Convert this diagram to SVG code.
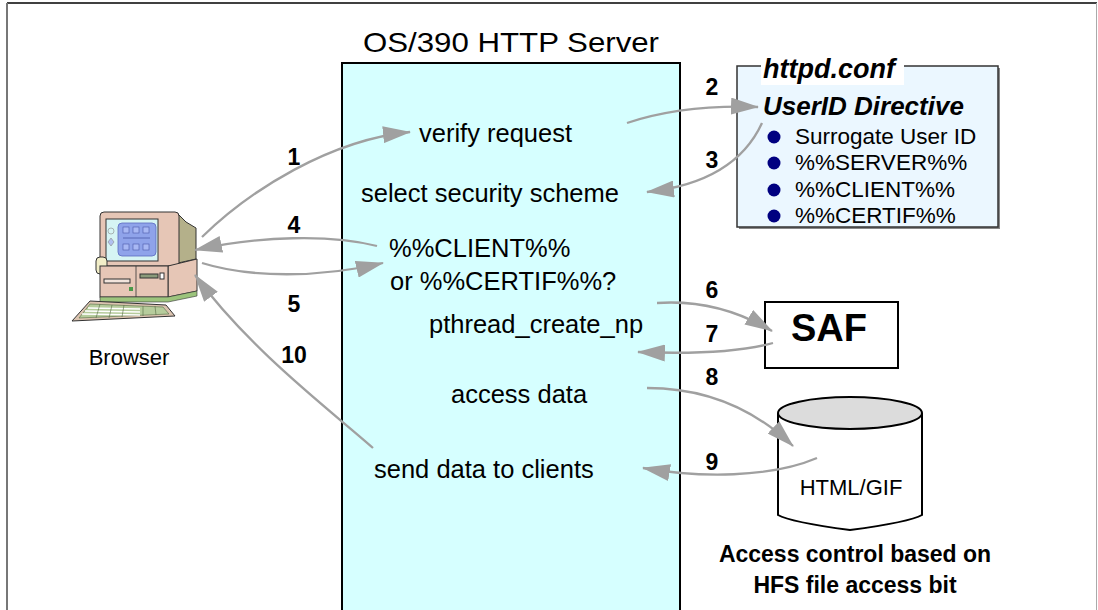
<svg xmlns="http://www.w3.org/2000/svg" width="1098" height="610" viewBox="0 0 1098 610">
  <style>
    .t { font-family: "Liberation Sans", Arial, sans-serif; fill: #000; }
    .lbl { font-size: 25.5px; }
    .num { font-size: 23px; font-weight: bold; }
    .item { font-size: 22.5px; }
    .conn { fill: none; stroke: #a0a0a0; stroke-width: 2.3; marker-end: url(#head); }
    .ol { stroke: #333; stroke-width: 1; }
  </style>
  <defs>
    <marker id="head" markerUnits="userSpaceOnUse" viewBox="0 0 28 17" refX="27" refY="8.5" markerWidth="28" markerHeight="17" orient="auto">
      <path d="M0,0 L28,8.5 L0,17 z" fill="#a0a0a0"/>
    </marker>
  </defs>

  <rect width="1098" height="610" fill="#fff"/>
  <!-- page frame -->
  <line x1="7" y1="3" x2="1097" y2="3" stroke="#000" stroke-width="1.5"/>
  <line x1="7" y1="3" x2="7" y2="610" stroke="#777" stroke-width="2"/>
  <line x1="1096.5" y1="3" x2="1096.5" y2="610" stroke="#aaa" stroke-width="1"/>

  <!-- HTTP server -->
  <g id="server">
    <text class="t" x="511" y="52" font-size="28" text-anchor="middle" textLength="296" lengthAdjust="spacingAndGlyphs">OS/390 HTTP Server</text>
    <rect x="342" y="63" width="338" height="560" fill="#d6ffff" stroke="#000" stroke-width="2"/>
    <text class="t lbl" x="419" y="142">verify request</text>
    <text class="t lbl" x="361" y="202">select security scheme</text>
    <text class="t lbl" x="389" y="257">%%CLIENT%%</text>
    <text class="t lbl" x="390" y="290">or %%CERTIF%%?</text>
    <text class="t lbl" x="429" y="333">pthread_create_np</text>
    <text class="t lbl" x="451" y="403">access data</text>
    <text class="t lbl" x="374" y="478">send data to clients</text>
  </g>

  <!-- configuration file -->
  <g id="httpd-conf">
    <rect x="739" y="68" width="261" height="161" fill="#888"/>
    <rect x="737" y="66" width="261" height="161" fill="#ebf7ff" stroke="#333" stroke-width="1.5"/>
    <rect x="761" y="60" width="143" height="25" fill="#fff"/>
    <text class="t" x="763" y="78" font-size="27" font-weight="bold" font-style="italic">httpd.conf</text>
    <text class="t" x="763" y="115" font-size="26" font-weight="bold" font-style="italic">UserID Directive</text>
    <g fill="#000080">
      <circle cx="774" cy="137" r="6.5"/>
      <circle cx="774" cy="163" r="6.5"/>
      <circle cx="774" cy="190" r="6.5"/>
      <circle cx="774" cy="216" r="6.5"/>
    </g>
    <text class="t item" x="795" y="144">Surrogate User ID</text>
    <text class="t item" x="795" y="170">%%SERVER%%</text>
    <text class="t item" x="795" y="197">%%CLIENT%%</text>
    <text class="t item" x="795" y="223">%%CERTIF%%</text>
  </g>

  <!-- SAF -->
  <g id="saf">
    <rect x="765" y="302" width="133" height="66" fill="#fff" stroke="#000" stroke-width="2"/>
    <text class="t" x="829" y="341" font-size="38" font-weight="bold" text-anchor="middle">SAF</text>
  </g>

  <!-- HFS data store -->
  <g id="html-gif">
    <path d="M778,413 L778,515 Q790,522 850,530 Q910,522 922,515 L922,413" fill="#fff" stroke="#000" stroke-width="2"/>
    <ellipse cx="850" cy="413" rx="72" ry="16" fill="#dcdcdc" stroke="#000" stroke-width="2"/>
    <text class="t" x="851" y="495" font-size="22" text-anchor="middle">HTML/GIF</text>
    <text class="t" x="855" y="562" font-size="23" font-weight="bold" text-anchor="middle">Access control based on</text>
    <text class="t" x="855" y="593" font-size="23" font-weight="bold" text-anchor="middle">HFS file access bit</text>
  </g>

  <!-- client workstation -->
  <g id="browser">
    <!-- monitor -->
    <polygon class="ol" points="178,214 186,222 196,228 196,259 178,263" fill="#b4b08a"/>
    <path class="ol" d="M100,216 Q100,212 104,212 L175,212 Q179,212 179,216 L179,266 L100,266 z" fill="#e6c6b6"/>
    <rect class="ol" x="106" y="219" width="52" height="42" fill="#d6f4f4"/>
    <rect x="118" y="223" width="38" height="33" rx="4" fill="#8fa3ea" stroke="#5a6ac0" stroke-width="0.8"/>
    <g fill="#a8b8f4" stroke="#4a58a8" stroke-width="0.6">
      <rect x="123" y="227" width="6" height="6"/>
      <rect x="133" y="227" width="6" height="6"/>
      <rect x="143" y="227" width="6" height="6"/>
      <rect x="123" y="244" width="6" height="6"/>
      <rect x="133" y="244" width="6" height="6"/>
      <rect x="143" y="244" width="6" height="6"/>
    </g>
    <line x1="123" y1="238" x2="150" y2="238" stroke="#4a58a8" stroke-width="0.8"/>
    <circle cx="111" cy="231" r="3" fill="#d6f4f4" stroke="#888" stroke-width="0.6"/>
    <path d="M111,238 l3,4 l-3,4 l-3,-4 z" fill="#b0c0f0" stroke="#888" stroke-width="0.6"/>
    <rect class="ol" x="96" y="257" width="11" height="17" rx="4" fill="#f2eec8"/>
    <!-- system unit -->
    <polygon class="ol" points="168,266 197,259 197,291 168,297" fill="#e6c6b6"/>
    <rect class="ol" x="100" y="266" width="68" height="31" fill="#e6c6b6"/>
    <line x1="136" y1="266" x2="136" y2="297" stroke="#333" stroke-width="0.8"/>
    <rect class="ol" x="104" y="279" width="26" height="4" fill="#f2e4dc"/>
    <rect x="129" y="287" width="4" height="4" fill="#4a9a4a"/>
    <rect class="ol" x="140" y="274" width="18" height="4" fill="#8a9a7a"/>
    <rect class="ol" x="160" y="273" width="4" height="6" fill="#fff"/>
    <polygon points="100,297 168,297 197,291 197,296 168,302 100,302" fill="#9cc47c" stroke="#333" stroke-width="0.6"/>
    <!-- keyboard -->
    <polygon class="ol" points="90,301 166,305 175,316 72,321" fill="#dcc4b0"/>
    <polygon points="90,304 163,307 169,314 79,318" fill="#b6cc9c" stroke="#556b44" stroke-width="0.6"/>
    <g stroke="#fff" stroke-width="1.6">
      <line x1="88" y1="308" x2="140" y2="309"/>
      <line x1="85" y1="311" x2="140" y2="312"/>
      <line x1="82" y1="314" x2="140" y2="315"/>
    </g>
    <g stroke="#556b44" stroke-width="0.6">
      <line x1="100" y1="304" x2="96" y2="318"/>
      <line x1="112" y1="305" x2="109" y2="318"/>
      <line x1="124" y1="305" x2="122" y2="317"/>
      <line x1="143" y1="306" x2="143" y2="316"/>
      <line x1="155" y1="306" x2="156" y2="315"/>
    </g>
    <text class="t" x="129" y="365" font-size="22" text-anchor="middle">Browser</text>
  </g>

  <!-- request flow -->
  <g id="connectors">
    <path class="conn" d="M202,237 C250,190 330,140 410,132"/>
    <path class="conn" d="M627,123 C660,112 700,105 758,107"/>
    <path class="conn" d="M762,123 C745,160 710,185 647,192"/>
    <path class="conn" d="M377,246 C330,234 260,236 195,250"/>
    <path class="conn" d="M202,263 C250,278 320,278 383,263"/>
    <path class="conn" d="M657,303 C700,300 740,312 772,331"/>
    <path class="conn" d="M773,343 C740,352 690,354 638,352"/>
    <path class="conn" d="M647,388 C700,388 750,405 793,446"/>
    <path class="conn" d="M817,458 C770,478 700,478 643,468"/>
    <path class="conn" d="M373,448 C330,410 250,350 195,275"/>
  </g>

  <!-- step numbers -->
  <g id="steps" text-anchor="middle">
    <text class="t num" x="294" y="165">1</text>
    <text class="t num" x="712" y="95">2</text>
    <text class="t num" x="712" y="168">3</text>
    <text class="t num" x="294" y="233">4</text>
    <text class="t num" x="294" y="312">5</text>
    <text class="t num" x="712" y="298">6</text>
    <text class="t num" x="712" y="342">7</text>
    <text class="t num" x="712" y="385">8</text>
    <text class="t num" x="712" y="470">9</text>
    <text class="t num" x="294" y="363">10</text>
  </g>
</svg>
